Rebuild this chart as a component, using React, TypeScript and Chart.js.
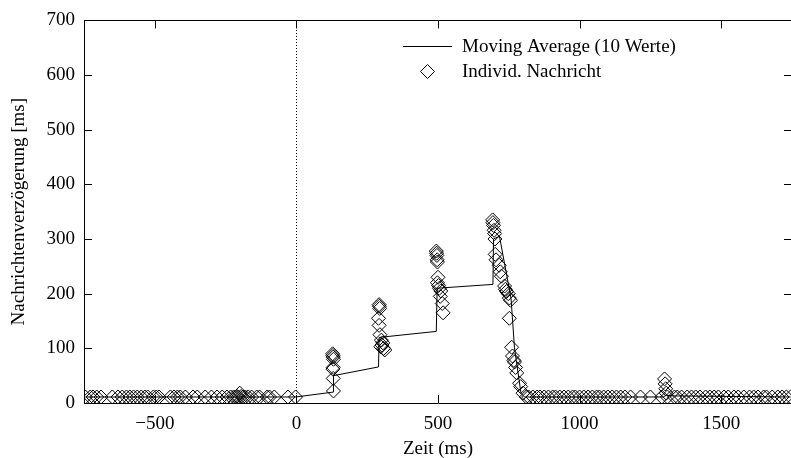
import React, { useEffect, useRef } from 'react';
import { Chart, registerables } from 'chart.js';

Chart.register(...registerables);

// Individual message delays: send time (ms) and delay (ms)
const msgTime = [
  -745, -728, -718, -705, -690, -650, -630, -615, -600, -588, -575, -562, -548, -535, -525, -505,
  -495, -485, -445, -432, -420, -410, -392, -365, -350, -322, -300, -280, -262, -245, -232, -222,
  -215, -210, -205, -200, -195, -188, -180, -170, -158, -140, -130, -103, -95, -78, -30, -3,
  128, 129, 130, 131, 130, 129, 130, 131,
  292, 293, 294, 290, 292, 295, 300, 305, 302, 298, 308, 312,
  494, 495, 496, 497, 498, 500, 498, 502, 505, 510, 508, 515, 518,
  693, 694, 696, 698, 700, 701, 702, 705, 716, 720, 724, 735, 738, 742, 748, 752, 756, 752, 760,
  763, 768, 770, 774, 778, 788, 792, 800, 812,
  820, 835, 850, 860, 875, 890, 905, 915, 930, 945, 960, 975, 985, 1000, 1015, 1030, 1045, 1060,
  1070, 1085, 1100, 1115, 1130, 1145, 1160, 1180, 1215, 1250, 1290, 1300, 1302, 1304, 1306, 1310,
  1335, 1345, 1360, 1380, 1395, 1410, 1425, 1445, 1460, 1475, 1490, 1510, 1525, 1545, 1560, 1580,
  1600, 1615, 1630, 1650, 1660, 1680, 1700, 1715, 1730, 1745,
];
const msgDelay = [
  11, 11, 11, 11, 11, 11, 11, 11, 11, 11, 11, 11, 11, 11, 11, 11,
  11, 11, 11, 11, 11, 11, 11, 11, 11, 11, 11, 11, 11, 11, 11, 11,
  11, 12, 11, 18, 12, 11, 11, 11, 11, 11, 11, 11, 11, 11, 11, 11,
  90, 87, 84, 80, 65, 62, 45, 22,
  180, 177, 173, 155, 142, 125, 115, 110, 106, 103, 100, 97,
  278, 274, 270, 262, 258, 230, 220, 215, 210, 205, 195, 182, 165,
  335, 330, 325, 316, 310, 300, 272, 262, 252, 240, 232, 214, 208, 204, 200, 192, 188, 155, 102,
  86, 78, 75, 65, 55, 36, 30, 18, 11,
  11, 11, 11, 11, 11, 11, 11, 11, 11, 11, 11, 11, 11, 11, 11, 11, 11, 11,
  11, 11, 11, 11, 11, 11, 11, 11, 11, 11, 11, 44, 35, 26, 18, 11,
  11, 11, 11, 11, 11, 11, 11, 11, 11, 11, 11, 11, 11, 11, 11, 11,
  11, 11, 11, 11, 11, 11, 11, 11, 11, 11,
];

// Moving average over the last 10 messages
const avgTime = [-745, -3, 131, 131, 290, 292, 494, 497, 694, 696, 717, 758, 770, 793, 805, 1295, 1306, 1330, 1745];
const avgDelay = [11, 11, 20, 50, 66, 120, 131, 210, 217, 300, 305, 191, 101, 18, 11, 11, 14, 13, 11];

const xTicks = [-500, 0, 500, 1000, 1500];
const xRange = [-750, 1750];
const yRange = [0, 700];

const xTitle = 'Zeit (ms)';
const yTitle = 'Nachrichtenverzögerung [ms]';
const legendLine = 'Moving Average (10 Werte)';
const legendPoint = 'Individ. Nachricht';

const FONT = '"Liberation Serif", "Times New Roman", serif';
const FS = 19;

const gnuplotFrame = {
  id: 'gnuplotFrame',
  beforeDatasetsDraw(chart: any) {
    const { ctx, chartArea: a, scales } = chart;
    const x0 = Math.round(scales.x.getPixelForValue(0)) + 0.5;
    ctx.save();
    ctx.strokeStyle = '#000';
    ctx.lineWidth = 1;
    ctx.setLineDash([1, 2]);
    ctx.beginPath();
    ctx.moveTo(x0, a.bottom);
    ctx.lineTo(x0, a.top);
    ctx.stroke();
    ctx.restore();
  },
  afterDatasetsDraw(chart: any) {
    const { ctx, chartArea: a, scales } = chart;
    const tl = 8;
    ctx.save();
    ctx.strokeStyle = '#000';
    ctx.lineWidth = 1;
    ctx.beginPath();
    ctx.rect(Math.round(a.left) + 0.5, Math.round(a.top) + 0.5, Math.round(a.width), Math.round(a.height));
    for (const t of scales.x.ticks) {
      const px = Math.round(scales.x.getPixelForValue(t.value)) + 0.5;
      ctx.moveTo(px, a.bottom);
      ctx.lineTo(px, a.bottom - tl);
      ctx.moveTo(px, a.top);
      ctx.lineTo(px, a.top + tl);
    }
    for (const t of scales.y.ticks) {
      const py = Math.round(scales.y.getPixelForValue(t.value)) + 0.5;
      ctx.moveTo(a.left, py);
      ctx.lineTo(a.left + tl, py);
      ctx.moveTo(a.right, py);
      ctx.lineTo(a.right - tl, py);
    }
    ctx.stroke();

    // key
    ctx.font = `${FS}px ${FONT}`;
    ctx.fillStyle = '#000';
    ctx.textBaseline = 'middle';
    ctx.textAlign = 'left';
    const kx = 403;
    const ky = 46;
    ctx.beginPath();
    ctx.moveTo(kx, ky + 0.5);
    ctx.lineTo(kx + 49, ky + 0.5);
    ctx.stroke();
    ctx.fillText(legendLine, kx + 59, ky + 1);
    const dx = kx + 24.5;
    const dy = ky + 25.5;
    const r = 7;
    ctx.beginPath();
    ctx.moveTo(dx - r, dy);
    ctx.lineTo(dx, dy - r);
    ctx.lineTo(dx + r, dy);
    ctx.lineTo(dx, dy + r);
    ctx.closePath();
    ctx.stroke();
    ctx.fillText(legendPoint, kx + 59, ky + 26);
    ctx.restore();
  },
};

export default function App() {
  const ref = useRef<HTMLCanvasElement | null>(null);

  useEffect(() => {
    if (!ref.current) return;
    const chart = new Chart(ref.current, {
      type: 'scatter',
      data: {
        datasets: [
          {
            label: legendLine,
            data: avgTime.map((t, i) => ({ x: t, y: avgDelay[i] })),
            showLine: true,
            borderColor: '#000',
            borderWidth: 1,
            pointRadius: 0,
            pointHoverRadius: 0,
            tension: 0,
          },
          {
            label: legendPoint,
            data: msgTime.map((t, i) => ({ x: t, y: msgDelay[i] })),
            pointStyle: 'rectRot',
            pointRadius: 7,
            pointHoverRadius: 7,
            borderColor: '#000',
            borderWidth: 1,
            backgroundColor: 'rgba(0,0,0,0)',
          },
        ],
      },
      options: {
        responsive: false,
        animation: false,
        events: [],
        layout: { padding: { top: 12, right: 6, left: 0, bottom: 0 } },
        plugins: { legend: { display: false }, tooltip: { enabled: false } },
        scales: {
          x: {
            type: 'linear',
            min: xRange[0],
            max: xRange[1],
            afterBuildTicks: (s: any) => {
              s.ticks = xTicks.map((v) => ({ value: v }));
            },
            afterFit: (s: any) => {
              s.height = 59;
            },
            grid: { display: false, drawTicks: false },
            border: { display: false },
            ticks: {
              color: '#000',
              padding: 10,
              font: { family: FONT, size: FS },
              callback: (v: any) => String(v).replace('-', '\u2212'),
            },
            title: {
              display: true,
              text: xTitle,
              color: '#000',
              font: { family: FONT, size: FS },
              padding: { top: 0, bottom: 2 },
            },
          },
          y: {
            type: 'linear',
            min: yRange[0],
            max: yRange[1],
            afterFit: (s: any) => {
              s.width = 84;
            },
            grid: { display: false, drawTicks: false },
            border: { display: false },
            ticks: {
              stepSize: 100,
              color: '#000',
              padding: 9,
              font: { family: FONT, size: FS },
            },
            title: {
              display: true,
              text: yTitle,
              color: '#000',
              font: { family: FONT, size: FS },
              padding: { top: 8, bottom: 0 },
            },
          },
        },
      },
      plugins: [gnuplotFrame],
    });
    return () => chart.destroy();
  }, []);

  return (
    <div style={{ position: 'fixed', left: 0, top: 0, width: 800, height: 462, background: '#fff' }}>
      <canvas ref={ref} width={800} height={462} style={{ width: 800, height: 462, display: 'block' }} />
    </div>
  );
}
